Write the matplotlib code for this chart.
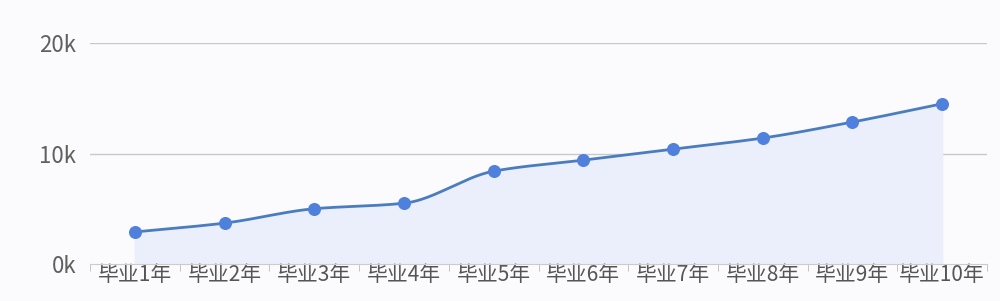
import numpy as np
import matplotlib.pyplot as plt

plt.rcParams['font.family'] = ['Noto Sans CJK SC', 'DejaVu Sans']

years = ['毕业1年', '毕业2年', '毕业3年', '毕业4年', '毕业5年',
         '毕业6年', '毕业7年', '毕业8年', '毕业9年', '毕业10年']
salary = [2900, 3700, 5000, 5500, 8400, 9400, 10400, 11400, 12850, 14500]
yticks = [0, 10000, 20000]
ylabels = ['0k', '10k', '20k']


def pchip(x, y, xs):
    # monotone cubic, close to echarts "smooth" lines
    x = np.asarray(x, float)
    y = np.asarray(y, float)
    h = np.diff(x)
    d = np.diff(y) / h
    m = np.zeros_like(y)
    for i in range(1, len(y) - 1):
        if d[i - 1] * d[i] > 0:
            w1 = 2 * h[i] + h[i - 1]
            w2 = h[i] + 2 * h[i - 1]
            m[i] = (w1 + w2) / (w1 / d[i - 1] + w2 / d[i])
    m[0] = d[0]
    m[-1] = d[-1]
    idx = np.clip(np.searchsorted(x, xs) - 1, 0, len(x) - 2)
    t = (xs - x[idx]) / h[idx]
    h00 = 2 * t**3 - 3 * t**2 + 1
    h10 = t**3 - 2 * t**2 + t
    h01 = -2 * t**3 + 3 * t**2
    h11 = t**3 - t**2
    return h00 * y[idx] + h10 * h[idx] * m[idx] + h01 * y[idx + 1] + h11 * h[idx] * m[idx + 1]


x = np.arange(len(years))
xs = np.linspace(0, len(years) - 1, 400)
ys = pchip(x, salary, xs)

fig = plt.figure(figsize=(10, 3.01), dpi=100, facecolor='#fbfbfd')
ax = fig.add_axes([0.09, 0.123, 0.897, 0.734])
ax.set_facecolor('#fbfbfd')

ax.fill_between(xs, 0, ys, color='#ebeffb', zorder=1)
ax.plot(xs, ys, color='#4a7cc0', lw=2.0, zorder=3)
ax.scatter(x, salary, s=70, color='#4f80dc', zorder=4)

ax.set_xlim(-0.5, len(years) - 0.5)
ax.set_ylim(0, 20000)
ax.set_yticks(yticks)
ax.set_yticklabels(ylabels, fontsize=16, color='#606060')
for v in yticks[1:]:
    ax.axhline(v, color='#c8c8c8', lw=1, zorder=0)

ax.set_xticks(x)
ax.set_xticklabels(years, fontsize=15, color='#555555')
ax.set_xticks(np.arange(-0.5, len(years), 1), minor=True)
ax.tick_params(axis='x', which='major', length=0, pad=0)
ax.tick_params(axis='x', which='minor', length=5, color='#bbbbbb')
ax.tick_params(axis='y', length=0, pad=10)

for s in ['top', 'right', 'left']:
    ax.spines[s].set_visible(False)
ax.spines['bottom'].set_color('#cccccc')

fig.savefig('out.png', dpi=100, facecolor=fig.get_facecolor())
